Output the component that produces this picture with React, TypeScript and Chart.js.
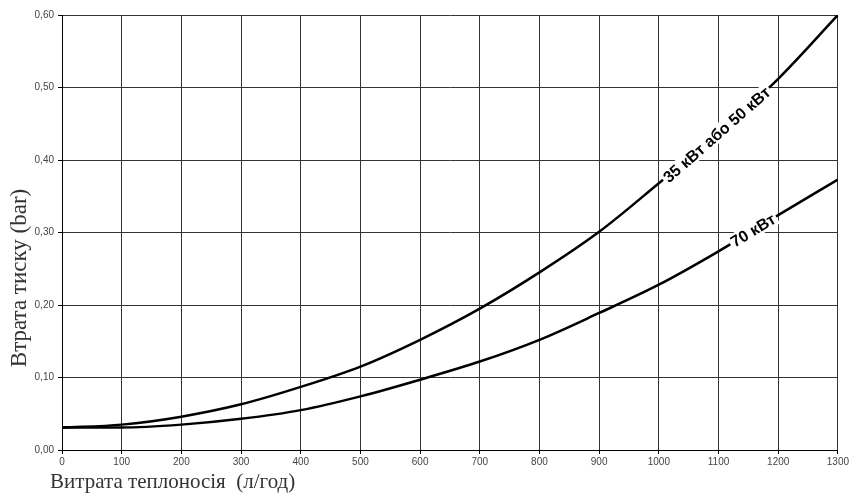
import React, { useEffect, useRef } from "react";
import { Chart, registerables } from "chart.js";

Chart.register(...registerables);

// Flow rate (l/h)
const flowValues = [0, 100, 200, 300, 400, 500, 600, 700, 800, 900, 1000, 1100, 1200, 1300];
// Pressure loss (bar) for 35 kW or 50 kW
const loss35or50 = [0.031, 0.035, 0.046, 0.063, 0.087, 0.115, 0.152, 0.195, 0.245, 0.301, 0.368, 0.437, 0.512, 0.6];
// Pressure loss (bar) for 70 kW
const loss70 = [0.031, 0.031, 0.035, 0.043, 0.055, 0.074, 0.097, 0.122, 0.152, 0.189, 0.228, 0.274, 0.324, 0.373];

const seriesNames = ["35 кВт або 50 кВт", "70 кВт"];
const labelAtFlow = [1097, 1158];

const xTitle = "Витрата теплоносія  (л/год)";
const yTitle = "Втрата тиску (bar)";

const X_MIN = 0, X_MAX = 1300, X_STEP = 100;
const Y_MIN = 0, Y_MAX = 0.6, Y_STEP = 0.1;

function interp(xs: number[], ys: number[], x: number) {
  for (let i = 0; i < xs.length - 1; i++) {
    if (x >= xs[i] && x <= xs[i + 1]) {
      const t = (x - xs[i]) / (xs[i + 1] - xs[i]);
      return ys[i] + t * (ys[i + 1] - ys[i]);
    }
  }
  return ys[ys.length - 1];
}

const decorPlugin = {
  id: "decor",
  afterDatasetsDraw(chart: any) {
    const ctx = chart.ctx;
    const xs = chart.scales.x;
    const ys = chart.scales.y;
    const series = [loss35or50, loss70];
    series.forEach((vals, i) => {
      const xv = labelAtFlow[i];
      const px = xs.getPixelForValue(xv);
      const py = ys.getPixelForValue(interp(flowValues, vals, xv));
      const ax = xs.getPixelForValue(xv - 40);
      const ay = ys.getPixelForValue(interp(flowValues, vals, xv - 40));
      const bx = xs.getPixelForValue(xv + 40);
      const by = ys.getPixelForValue(interp(flowValues, vals, xv + 40));
      const ang = Math.atan2(by - ay, bx - ax);
      ctx.save();
      ctx.translate(px, py);
      ctx.rotate(ang);
      ctx.font = 'bold 16px "Liberation Sans", Arial, sans-serif';
      const w = ctx.measureText(seriesNames[i]).width;
      ctx.fillStyle = "#ffffff";
      ctx.fillRect(-w / 2 - 2, -8, w + 4, 16);
      ctx.fillStyle = "#000000";
      ctx.textAlign = "center";
      ctx.textBaseline = "middle";
      ctx.fillText(seriesNames[i], 0, 1);
      ctx.restore();
    });

    // axis titles
    ctx.save();
    ctx.fillStyle = "#333333";
    ctx.font = '21px "Liberation Serif", "DejaVu Serif", serif';
    ctx.textAlign = "left";
    ctx.textBaseline = "middle";
    ctx.fillText(xTitle, 50, 482);
    ctx.font = '23px "Liberation Serif", "DejaVu Serif", serif';
    ctx.translate(20, 278);
    ctx.rotate(-Math.PI / 2);
    ctx.textAlign = "center";
    ctx.fillText(yTitle, 0, 0);
    ctx.restore();
  },
};

export default function App() {
  const ref = useRef<HTMLCanvasElement | null>(null);
  useEffect(() => {
    if (!ref.current) return;
    const chart = new Chart(ref.current, {
      type: "line",
      data: {
        datasets: [
          {
            label: seriesNames[0],
            data: flowValues.map((x, i) => ({ x, y: loss35or50[i] })),
            borderColor: "#000000",
            borderWidth: 2.5,
            pointRadius: 0,
            cubicInterpolationMode: "monotone",
            fill: false,
          },
          {
            label: seriesNames[1],
            data: flowValues.map((x, i) => ({ x, y: loss70[i] })),
            borderColor: "#000000",
            borderWidth: 2.5,
            pointRadius: 0,
            cubicInterpolationMode: "monotone",
            fill: false,
          },
        ],
      },
      options: {
        animation: false,
        responsive: false,
        maintainAspectRatio: false,
        layout: { padding: { left: 0, top: 15, right: 10, bottom: 0 } },
        plugins: { legend: { display: false }, tooltip: { enabled: false } },
        scales: {
          x: {
            type: "linear",
            min: X_MIN,
            max: X_MAX,
            afterFit: (s: any) => { s.height = 47; },
            ticks: {
              stepSize: X_STEP,
              padding: 2,
              maxRotation: 0,
              autoSkip: false,
              color: "#444444",
              font: { family: '"Liberation Sans", Arial, sans-serif', size: 10 },
              callback: (v: any) => String(v),
            },
            grid: { color: "#333333", lineWidth: 1, tickLength: 4, tickColor: "#000000" },
            border: { color: "#000000", width: 1 },
          },
          y: {
            type: "linear",
            min: Y_MIN,
            max: Y_MAX,
            afterFit: (s: any) => { s.width = 62; },
            ticks: {
              stepSize: Y_STEP,
              padding: 4,
              autoSkip: false,
              color: "#444444",
              font: { family: '"Liberation Sans", Arial, sans-serif', size: 10 },
              callback: (v: any) => Number(v).toFixed(2).replace(".", ","),
            },
            grid: { color: "#333333", lineWidth: 1, tickLength: 4, tickColor: "#000000" },
            border: { color: "#000000", width: 1 },
          },
        },
      },
      plugins: [decorPlugin],
    } as any);
    return () => chart.destroy();
  }, []);
  return (
    <div style={{ position: "fixed", left: 0, top: 0, width: 851, height: 497, background: "#fff" }}>
      <canvas ref={ref} width={851} height={497} style={{ width: 851, height: 497, display: "block" }} />
    </div>
  );
}
